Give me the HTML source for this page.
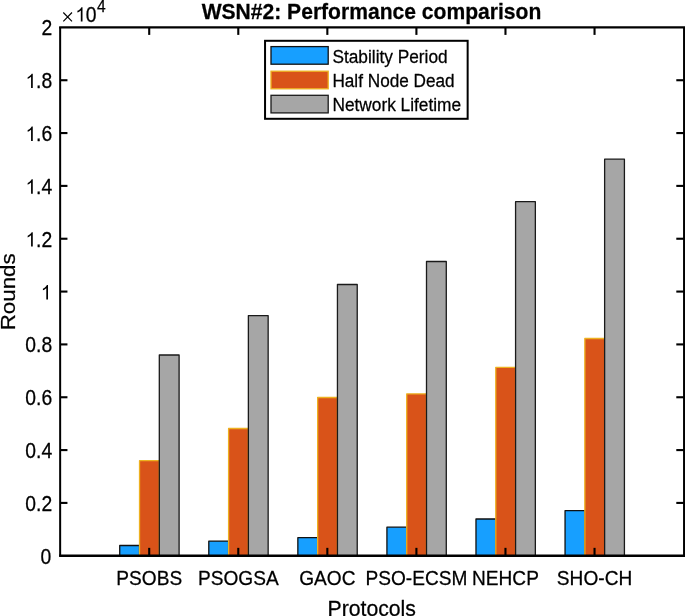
<!DOCTYPE html>
<html><head><meta charset="utf-8"><title>WSN#2: Performance comparison</title>
<style>html,body{margin:0;padding:0;background:#fff;}body{width:685px;height:616px;overflow:hidden;}svg{display:block;will-change:transform;}text{font-family:"Liberation Sans",sans-serif;fill:#000;stroke:#000;stroke-width:0.25px;stroke-linejoin:round;}</style>
</head><body>
<svg width="685" height="616" viewBox="0 0 685 616">
<rect x="0" y="0" width="685" height="616" fill="#ffffff"/>
<g stroke-width="1.3" stroke-linejoin="round">
<rect x="119.73" y="545.50" width="19.79" height="10.25" fill="#179fff" stroke="#111111"/>
<rect x="139.52" y="460.70" width="19.79" height="95.05" fill="#d95319" stroke="#edb120"/>
<rect x="159.31" y="355.00" width="19.79" height="200.75" fill="#a6a6a6" stroke="#1a1a1a"/>
<rect x="208.79" y="541.10" width="19.79" height="14.65" fill="#179fff" stroke="#111111"/>
<rect x="228.58" y="428.50" width="19.79" height="127.25" fill="#d95319" stroke="#edb120"/>
<rect x="248.37" y="315.60" width="19.79" height="240.15" fill="#a6a6a6" stroke="#1a1a1a"/>
<rect x="297.85" y="537.70" width="19.79" height="18.05" fill="#179fff" stroke="#111111"/>
<rect x="317.65" y="397.50" width="19.79" height="158.25" fill="#d95319" stroke="#edb120"/>
<rect x="337.44" y="284.50" width="19.79" height="271.25" fill="#a6a6a6" stroke="#1a1a1a"/>
<rect x="386.92" y="527.20" width="19.79" height="28.55" fill="#179fff" stroke="#111111"/>
<rect x="406.71" y="393.90" width="19.79" height="161.85" fill="#d95319" stroke="#edb120"/>
<rect x="426.50" y="261.50" width="19.79" height="294.25" fill="#a6a6a6" stroke="#1a1a1a"/>
<rect x="475.98" y="519.00" width="19.79" height="36.75" fill="#179fff" stroke="#111111"/>
<rect x="495.78" y="367.30" width="19.79" height="188.45" fill="#d95319" stroke="#edb120"/>
<rect x="515.57" y="201.70" width="19.79" height="354.05" fill="#a6a6a6" stroke="#1a1a1a"/>
<rect x="565.05" y="510.60" width="19.79" height="45.15" fill="#179fff" stroke="#111111"/>
<rect x="584.84" y="338.50" width="19.79" height="217.25" fill="#d95319" stroke="#edb120"/>
<rect x="604.63" y="159.20" width="19.79" height="396.55" fill="#a6a6a6" stroke="#1a1a1a"/>
</g>
<g stroke="#000" fill="none">
<line x1="60.15" y1="26.90" x2="60.15" y2="556.55" stroke-width="2.0"/>
<line x1="59.15" y1="27.40" x2="685.50" y2="27.40" stroke-width="2.1"/>
<line x1="59.15" y1="555.75" x2="685.50" y2="555.75" stroke-width="2.5"/>
<line x1="684.10" y1="27.40" x2="684.10" y2="555.75" stroke-width="2.1"/>
</g>
<g stroke="#000" stroke-width="2.1">
<line x1="149.21" y1="555.75" x2="149.21" y2="547.85"/>
<line x1="149.21" y1="27.40" x2="149.21" y2="34.90"/>
<line x1="238.28" y1="555.75" x2="238.28" y2="547.85"/>
<line x1="238.28" y1="27.40" x2="238.28" y2="34.90"/>
<line x1="327.34" y1="555.75" x2="327.34" y2="547.85"/>
<line x1="327.34" y1="27.40" x2="327.34" y2="34.90"/>
<line x1="416.41" y1="555.75" x2="416.41" y2="547.85"/>
<line x1="416.41" y1="27.40" x2="416.41" y2="34.90"/>
<line x1="505.47" y1="555.75" x2="505.47" y2="547.85"/>
<line x1="505.47" y1="27.40" x2="505.47" y2="34.90"/>
<line x1="594.54" y1="555.75" x2="594.54" y2="547.85"/>
<line x1="594.54" y1="27.40" x2="594.54" y2="34.90"/>
<line x1="60.15" y1="502.92" x2="67.45" y2="502.92"/>
<line x1="684.10" y1="502.92" x2="676.30" y2="502.92"/>
<line x1="60.15" y1="450.08" x2="67.45" y2="450.08"/>
<line x1="684.10" y1="450.08" x2="676.30" y2="450.08"/>
<line x1="60.15" y1="397.25" x2="67.45" y2="397.25"/>
<line x1="684.10" y1="397.25" x2="676.30" y2="397.25"/>
<line x1="60.15" y1="344.41" x2="67.45" y2="344.41"/>
<line x1="684.10" y1="344.41" x2="676.30" y2="344.41"/>
<line x1="60.15" y1="291.57" x2="67.45" y2="291.57"/>
<line x1="684.10" y1="291.57" x2="676.30" y2="291.57"/>
<line x1="60.15" y1="238.74" x2="67.45" y2="238.74"/>
<line x1="684.10" y1="238.74" x2="676.30" y2="238.74"/>
<line x1="60.15" y1="185.90" x2="67.45" y2="185.90"/>
<line x1="684.10" y1="185.90" x2="676.30" y2="185.90"/>
<line x1="60.15" y1="133.07" x2="67.45" y2="133.07"/>
<line x1="684.10" y1="133.07" x2="676.30" y2="133.07"/>
<line x1="60.15" y1="80.23" x2="67.45" y2="80.23"/>
<line x1="684.10" y1="80.23" x2="676.30" y2="80.23"/>
</g>
<text transform="translate(40.49,563.60) scale(0.9870,1.1200)" font-size="19.6">0</text>
<text transform="translate(25.26,510.77) scale(0.9870,1.1200)" font-size="19.6">0.2</text>
<text transform="translate(25.26,457.93) scale(0.9870,1.1200)" font-size="19.6">0.4</text>
<text transform="translate(25.26,405.10) scale(0.9870,1.1200)" font-size="19.6">0.6</text>
<text transform="translate(25.26,352.26) scale(0.9870,1.1200)" font-size="19.6">0.8</text>
<path transform="translate(40.79,299.43) scale(0.009446,-0.009783)" d="M763 0H583V1147Q518 1085 412.5 1023T223 930V1104Q374 1175 487 1276T647 1472H763Z" fill="#000"/>
<path transform="translate(25.56,246.59) scale(0.009446,-0.009783)" d="M763 0H583V1147Q518 1085 412.5 1023T223 930V1104Q374 1175 487 1276T647 1472H763Z" fill="#000"/><text transform="translate(36.02,246.59) scale(0.9870,1.1200)" font-size="19.6">.2</text>
<path transform="translate(25.56,193.75) scale(0.009446,-0.009783)" d="M763 0H583V1147Q518 1085 412.5 1023T223 930V1104Q374 1175 487 1276T647 1472H763Z" fill="#000"/><text transform="translate(36.02,193.75) scale(0.9870,1.1200)" font-size="19.6">.4</text>
<path transform="translate(25.56,140.92) scale(0.009446,-0.009783)" d="M763 0H583V1147Q518 1085 412.5 1023T223 930V1104Q374 1175 487 1276T647 1472H763Z" fill="#000"/><text transform="translate(36.02,140.92) scale(0.9870,1.1200)" font-size="19.6">.6</text>
<path transform="translate(25.56,88.08) scale(0.009446,-0.009783)" d="M763 0H583V1147Q518 1085 412.5 1023T223 930V1104Q374 1175 487 1276T647 1472H763Z" fill="#000"/><text transform="translate(36.02,88.08) scale(0.9870,1.1200)" font-size="19.6">.8</text>
<text transform="translate(41.39,35.25) scale(0.9870,1.1200)" font-size="19.6">2</text>
<text transform="translate(149.21,584.60) scale(0.9750,1.0600)" font-size="19.6" text-anchor="middle">PSOBS</text>
<text transform="translate(238.28,584.60) scale(0.9750,1.0600)" font-size="19.6" text-anchor="middle">PSOGSA</text>
<text transform="translate(327.34,584.60) scale(0.9750,1.0600)" font-size="19.6" text-anchor="middle">GAOC</text>
<text transform="translate(416.41,584.60) scale(0.9750,1.0600)" font-size="19.6" text-anchor="middle">PSO-ECSM</text>
<text transform="translate(505.47,584.60) scale(0.9750,1.0600)" font-size="19.6" text-anchor="middle">NEHCP</text>
<text transform="translate(594.54,584.60) scale(0.9750,1.0600)" font-size="19.6" text-anchor="middle">SHO-CH</text>
<path d="M63.3 12.5 L72.0 21.4 M72.0 12.5 L63.3 21.4" stroke="#000" stroke-width="1.15" fill="none"/>
<path transform="translate(75.30,21.60) scale(0.009446,-0.009715)" d="M763 0H583V1147Q518 1085 412.5 1023T223 930V1104Q374 1175 487 1276T647 1472H763Z" fill="#000"/><text transform="translate(85.76,21.60) scale(0.9870,1.0800)" font-size="19.6">0</text>
<text transform="translate(97.00,11.60) scale(0.9750,1.0000)" font-size="16">4</text>
<text transform="translate(371.45,18.50) scale(0.9945,1.0400)" font-size="21.2" text-anchor="middle" font-weight="bold">WSN#2: Performance comparison</text>
<text transform="translate(371.70,615.85) scale(1.0110,1.0110)" font-size="21" text-anchor="middle">Protocols</text>
<text transform="translate(15.30,291.80) rotate(-90) scale(1.0640,1.0000)" font-size="21" text-anchor="middle">Rounds</text>
<rect x="265.05" y="40.8" width="202.6" height="78.0" fill="#fff" stroke="#000" stroke-width="2.0"/>
<rect x="271.0" y="46.60" width="57.2" height="17.6" fill="#179fff" stroke="#111111" stroke-width="1.3"/>
<text transform="translate(332.40,62.55) scale(1.0170,1.0500)" font-size="17">Stability Period</text>
<rect x="271.0" y="71.20" width="57.2" height="17.6" fill="#d95319" stroke="#edb120" stroke-width="1.3"/>
<text transform="translate(332.40,86.70) scale(1.0110,1.0500)" font-size="17">Half Node Dead</text>
<rect x="271.0" y="95.30" width="57.2" height="17.6" fill="#a6a6a6" stroke="#1a1a1a" stroke-width="1.3"/>
<text transform="translate(332.40,110.80) scale(1.0170,1.0500)" font-size="17">Network Lifetime</text>
</svg>
</body></html>
